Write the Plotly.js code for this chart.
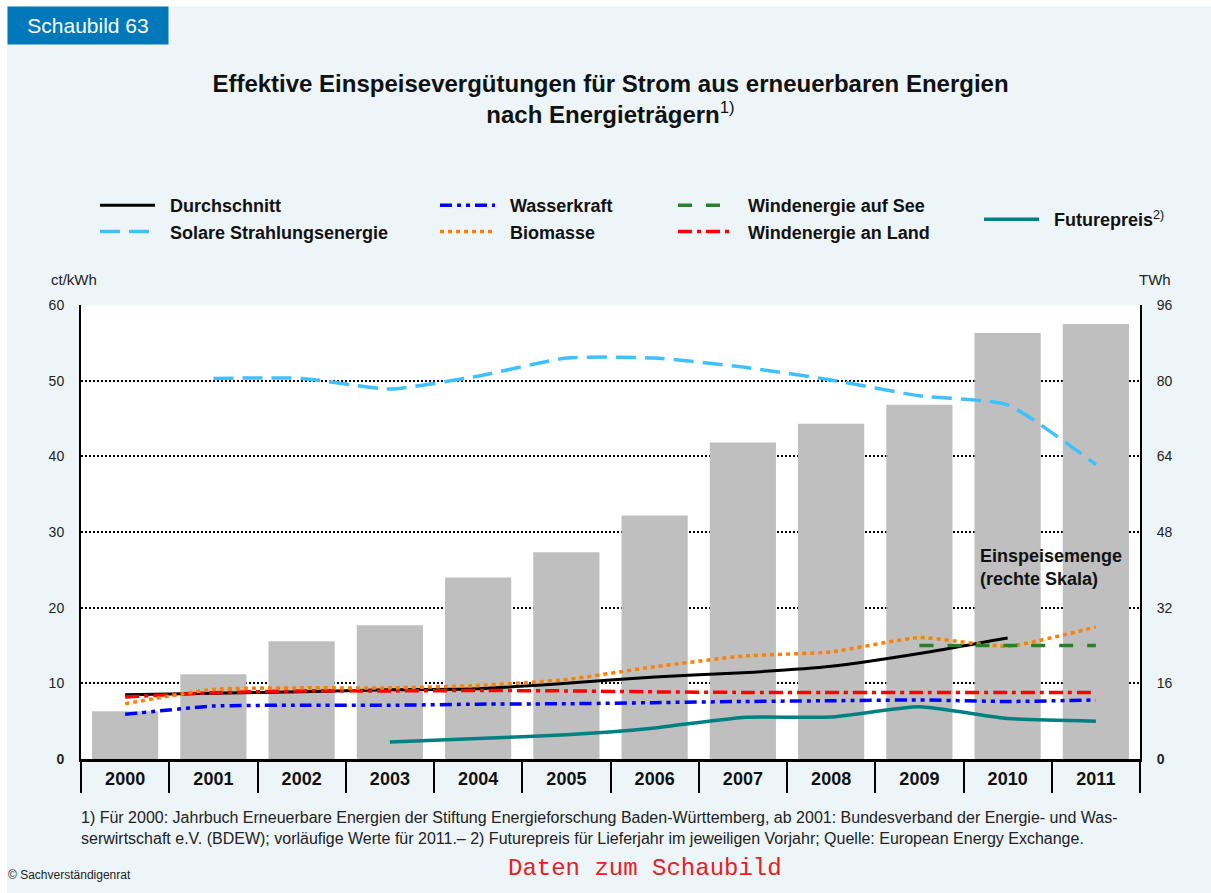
<!DOCTYPE html>
<html>
<head>
<meta charset="utf-8">
<script src="https://cdn.plot.ly/plotly-3.0.1.min.js"></script>
<style>
  body { margin: 0; background: #ffffff; }
  #chart { position: absolute; left: 7px; top: 6px; width: 1204px; height: 887px; }
</style>
</head>
<body>
<div id="chart"></div>
<script>
// Daten (ct/kWh, Einspeisemenge in TWh)
const years = ['2000','2001','2002','2003','2004','2005','2006','2007','2008','2009','2010','2011']
const einspeisemenge = [10.1, 17.9, 24.9, 28.3, 38.4, 43.7, 51.5, 66.9, 70.9, 74.9, 90.1, 92.0]
const durchschnitt = [8.5, 8.7, 8.9, 9.15, 9.3, 10.0, 10.85, 11.4, 12.25, 13.95, 16.0, null]
const solar = [null, 50.3, 50.3, 48.9, 50.6, 53.0, 53.0, 51.8, 50.1, 48.0, 46.8, 38.9]
const biomasse = [7.3, 9.2, 9.4, 9.4, 9.7, 10.5, 12.2, 13.6, 14.15, 16.05, 14.9, 17.45]
const wasserkraft = [5.9, 7.0, 7.1, 7.1, 7.25, 7.3, 7.45, 7.6, 7.7, 7.8, 7.6, 7.8]
const windLand = [8.2, 8.75, 9.0, 9.0, 9.05, 9.0, 8.87, 8.8, 8.8, 8.8, 8.8, 8.8]
const windSee = [null, null, null, null, null, null, null, null, null, 15.0, 15.0, 15.0]
const futurepreis = [null, null, null, 2.25, 2.7, 3.2, 4.1, 5.5, 5.55, 6.9, 5.35, 5.0]

const leftTicks = [0, 10, 20, 30, 40, 50, 60]
const rightTicks = [0, 16, 32, 48, 64, 80, 96]

const FONT = 'Arial, "Liberation Sans", sans-serif'
const SP = '\u00a0\u00a0'

// image pixel -> paper coords (plot area 81..1140 x 305..759)
const px = x => (x - 81) / 1059
const py = y => (759 - y) / 454

const lineTrace = (name, y, color, width, dash, legend, rank) => ({
    type: 'scatter', mode: 'lines', name: SP + name, x: years, y: y, yaxis: 'y2',
    line: {color: color, width: width, dash: dash, shape: 'spline', smoothing: 0.5},
    legend: legend, legendgroup: name, legendrank: rank, connectgaps: false
})

// bars on the base axis (TWh), lines on the overlaying ct/kWh axis so they sit on top
const data = [
    {type: 'bar', x: years, y: einspeisemenge, marker: {color: '#bfbfbf'},
     showlegend: false, hoverinfo: 'skip'},
    lineTrace('Futurepreis<span style="font-weight:normal"><sup>2)</sup></span>', futurepreis, '#008080', 3.5, 'solid', 'legend4', 1),
    lineTrace('Wasserkraft', wasserkraft, '#0000ff', 3.5, '12px,5px,4px,5px,4px,5px', 'legend2', 1),
    lineTrace('Durchschnitt', durchschnitt, '#000000', 3, 'solid', 'legend', 1),
    lineTrace('Windenergie an Land', windLand, '#ff0000', 3.5, '14px,5px,4px,5px', 'legend3', 2),
    lineTrace('Biomasse', biomasse, '#ff8000', 3.5, '4px,4px', 'legend2', 2),
    lineTrace('Windenergie auf See', windSee, '#2a7f2a', 3.5, '14px,14px', 'legend3', 1),
    lineTrace('Solare Strahlungsenergie', solar, '#40c0ff', 3.5, '20px,9px', 'legend', 2)
]

const legendBase = {
    orientation: 'v', xanchor: 'left', yanchor: 'top', bgcolor: 'rgba(0,0,0,0)',
    font: {family: FONT, size: 18, color: '#111', weight: 'bold'}, itemwidth: 55, tracegroupgap: 8,
    traceorder: 'normal', itemclick: false
}

const layout = {
    paper_bgcolor: '#edf5f8',
    plot_bgcolor: '#ffffff',
    margin: {l: 74, r: 71, t: 299, b: 134},
    showlegend: true,
    bargap: 0.25,
    title: {
        text: '<b>Effektive Einspeisevergütungen für Strom aus erneuerbaren Energien<br>nach Energieträgern</b><sup>1)</sup>',
        font: {family: FONT, size: 24, color: '#111'},
        x: 0.5, xref: 'paper', xanchor: 'center',
        y: 1 - 86 / 887, yref: 'container', yanchor: 'top'
    },
    xaxis: {
        type: 'category', range: [-0.5, 11.5], tickson: 'boundaries',
        ticks: 'outside', ticklen: 31, tickwidth: 2, tickcolor: '#000',
        ticklabelstandoff: 2,
        tickfont: {family: FONT, size: 18, color: '#111', weight: 'bold'},
        showline: true, linewidth: 2.5, linecolor: '#000', showgrid: false, fixedrange: true
    },
    yaxis: {
        side: 'right', range: [0, 96], tickvals: rightTicks,
        ticktext: rightTicks.map(v => v === 0 ? '<b>0</b>' : String(v)),
        tickfont: {family: FONT, size: 14, color: '#222'},
        ticks: 'outside', ticklen: 12, tickcolor: 'rgba(0,0,0,0)',
        showline: true, linewidth: 2, linecolor: '#000',
        showgrid: true, gridcolor: '#000', gridwidth: 2, griddash: '2px,2px',
        zeroline: false, fixedrange: true
    },
    yaxis2: {
        overlaying: 'y', side: 'left', range: [0, 60], tickvals: leftTicks,
        ticktext: leftTicks.map(v => v === 0 ? '<b>0</b>' : String(v)),
        tickfont: {family: FONT, size: 14, color: '#222'},
        ticks: 'outside', ticklen: 12, tickcolor: 'rgba(0,0,0,0)',
        showline: true, linewidth: 2, linecolor: '#000',
        showgrid: false, zeroline: false, fixedrange: true
    },
    legend: Object.assign({}, legendBase, {x: px(95), y: py(187)}),
    legend2: Object.assign({}, legendBase, {x: px(435), y: py(187)}),
    legend3: Object.assign({}, legendBase, {x: px(673), y: py(187)}),
    legend4: Object.assign({}, legendBase, {x: px(979), y: py(201)}),
    annotations: [
        {text: 'Schaubild 63', xref: 'paper', yref: 'paper', x: px(7), y: py(6),
         xanchor: 'left', yanchor: 'top', showarrow: false, width: 152, height: 29, borderpad: 4,
         bgcolor: '#0078b9', font: {family: FONT, size: 21, color: '#fff'}, align: 'center'},
        {text: 'ct/kWh', xref: 'paper', yref: 'paper', x: px(49), y: py(279),
         xanchor: 'left', yanchor: 'middle', showarrow: false,
         font: {family: FONT, size: 15, color: '#222'}},
        {text: 'TWh', xref: 'paper', yref: 'paper', x: px(1173), y: py(279),
         xanchor: 'right', yanchor: 'middle', showarrow: false,
         font: {family: FONT, size: 15, color: '#222'}},
        {text: '<b>Einspeisemenge<br>(rechte Skala)</b>', xref: 'paper', yref: 'paper',
         x: px(978), y: py(544), xanchor: 'left', yanchor: 'top', align: 'left', showarrow: false,
         font: {family: FONT, size: 18, color: '#111'}},
        {text: '1) Für 2000: Jahrbuch Erneuerbare Energien der Stiftung Energieforschung Baden-Württemberg, ab 2001: Bundesverband der Energie- und Was-<br>serwirtschaft e.V. (BDEW); vorläufige Werte für 2011.– 2) Futurepreis für Lieferjahr im jeweiligen Vorjahr; Quelle: European Energy Exchange.',
         xref: 'paper', yref: 'paper', x: px(79), y: py(807), xanchor: 'left', yanchor: 'top',
         align: 'left', showarrow: false, font: {family: FONT, size: 16, color: '#222'}},
        {text: '© Sachverständigenrat', xref: 'paper', yref: 'paper', x: px(6), y: py(875),
         xanchor: 'left', yanchor: 'middle', showarrow: false,
         font: {family: FONT, size: 12, color: '#222'}},
        {text: 'Daten zum Schaubild', xref: 'paper', yref: 'paper', x: px(645), y: py(868),
         xanchor: 'center', yanchor: 'middle', showarrow: false,
         font: {family: '"Liberation Mono", "DejaVu Sans Mono", monospace', size: 24, color: '#e8201f'}}
    ]
}

Plotly.newPlot('chart', data, layout, {displayModeBar: false, staticPlot: true})
</script>
</body>
</html>
